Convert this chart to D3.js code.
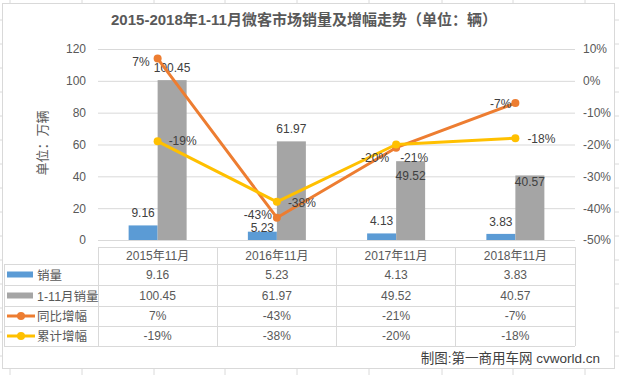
<!DOCTYPE html>
<html>
<head>
<meta charset="utf-8">
<script src="https://cdn.jsdelivr.net/npm/d3@7"></script>
<style>
  body { margin: 0; background: #fff; }
  svg text { font-family: "Liberation Sans", "Noto Sans CJK SC", sans-serif; }
</style>
</head>
<body>
<svg id="chart" width="619" height="375"></svg>
<script>
// Data ///////////////////////////////////////////////////////////////////
const categories = ['2015年11月', '2016年11月', '2017年11月', '2018年11月'];
const monthSales = [9.16, 5.23, 4.13, 3.83];        // 销量 (万辆)
const ytdSales = [100.45, 61.97, 49.52, 40.57];     // 1-11月销量 (万辆)
const yoyGrowth = [7, -43, -21, -7];                // 同比增幅 (%)
const ytdGrowth = [-19, -38, -20, -18];             // 累计增幅 (%)
const leftTicks = [0, 20, 40, 60, 80, 100, 120];
const rightTicks = [-50, -40, -30, -20, -10, 0, 10];

// Colors
const blue = '#5b9bd5', gray = '#a5a5a5', orange = '#ed7d31', yellow = '#ffc000';
const textColor = '#595959', gridColor = '#d9d9d9';

const svg = d3.select('#chart');

// Excel sheet grid behind the chart
const sheetCols = [10, 82, 154, 225, 297, 369, 442, 513, 585];
const sheetRows = d3.range(20, 375, 24);
svg.append('g').selectAll('line').data(sheetCols).enter().append('line')
  .attr('x1', d => d).attr('x2', d => d).attr('y1', 0).attr('y2', 375)
  .attr('stroke', '#dadada');
svg.append('g').selectAll('line').data(sheetRows).enter().append('line')
  .attr('x1', 0).attr('x2', 619).attr('y1', d => d).attr('y2', d => d)
  .attr('stroke', '#dadada');

// Chart area
svg.append('rect')
  .attr('x', 2.5).attr('y', 3.5).attr('width', 612).attr('height', 365)
  .attr('fill', '#fff').attr('stroke', gridColor);

// Scales
const plotLeft = 98, plotRight = 575, plotTop = 49, plotBottom = 240;
const x = d3.scaleBand().domain(categories).range([plotLeft, plotRight]);
const barWidth = 29;
const yLeft = d3.scaleLinear().domain([0, 120]).range([plotBottom, plotTop]);
const yRight = d3.scaleLinear().domain([-50, 10]).range([plotBottom, plotTop]);
const cx = c => x(c) + x.bandwidth() / 2;

// Title
svg.append('text')
  .attr('x', 304).attr('y', 25)
  .attr('text-anchor', 'middle')
  .attr('font-size', '15px').attr('font-weight', 'bold')
  .attr('fill', textColor)
  .text('2015-2018年1-11月微客市场销量及增幅走势（单位：辆）');

// Left axis with gridlines
const leftAxis = svg.append('g')
  .attr('transform', `translate(${plotLeft},0)`)
  .call(d3.axisLeft(yLeft).tickValues(leftTicks)
    .tickSize(-(plotRight - plotLeft)).tickPadding(12));
leftAxis.select('.domain').remove();
leftAxis.selectAll('line').attr('stroke', gridColor);
leftAxis.selectAll('text').attr('fill', textColor).attr('font-size', '12px');

// Right axis
const rightAxis = svg.append('g')
  .attr('transform', `translate(${plotRight},0)`)
  .call(d3.axisRight(yRight).tickValues(rightTicks)
    .tickSize(0).tickPadding(8).tickFormat(d => d + '%'));
rightAxis.select('.domain').remove();
rightAxis.selectAll('text').attr('fill', textColor).attr('font-size', '12px');

// Left axis title
svg.append('text')
  .attr('transform', 'translate(47,143) rotate(-90)')
  .attr('text-anchor', 'middle')
  .attr('font-size', '13px').attr('fill', textColor)
  .text('单位：万辆');

// Bars
svg.append('g').selectAll('rect').data(categories).enter().append('rect')
  .attr('x', d => cx(d) - barWidth)
  .attr('width', barWidth)
  .attr('y', (d, i) => yLeft(monthSales[i]))
  .attr('height', (d, i) => plotBottom - yLeft(monthSales[i]))
  .attr('fill', blue);
svg.append('g').selectAll('rect').data(categories).enter().append('rect')
  .attr('x', d => cx(d))
  .attr('width', barWidth)
  .attr('y', (d, i) => yLeft(ytdSales[i]))
  .attr('height', (d, i) => plotBottom - yLeft(ytdSales[i]))
  .attr('fill', gray);

// Bar labels (Excel moved some of them)
const monthLabelDy = [-8, 0, -8, -8];
const ytdLabelDy = [-8, -8, 19, 11];
svg.append('g').selectAll('text').data(categories).enter().append('text')
  .attr('x', d => cx(d) - barWidth / 2)
  .attr('y', (d, i) => yLeft(monthSales[i]) + monthLabelDy[i])
  .attr('text-anchor', 'middle').attr('font-size', '12px').attr('fill', '#404040')
  .text((d, i) => monthSales[i].toFixed(2));
svg.append('g').selectAll('text').data(categories).enter().append('text')
  .attr('x', d => cx(d) + barWidth / 2)
  .attr('y', (d, i) => yLeft(ytdSales[i]) + ytdLabelDy[i])
  .attr('text-anchor', 'middle').attr('font-size', '12px').attr('fill', '#404040')
  .text((d, i) => ytdSales[i].toFixed(2));

// Lines
const line = d3.line().x((d, i) => cx(categories[i])).y(d => yRight(d));
function drawSeries(values, color, labelPos) {
  svg.append('path').datum(values)
    .attr('d', line).attr('fill', 'none')
    .attr('stroke', color).attr('stroke-width', 3).attr('stroke-linejoin', 'round');
  svg.append('g').selectAll('circle').data(values).enter().append('circle')
    .attr('cx', (d, i) => cx(categories[i])).attr('cy', d => yRight(d))
    .attr('r', 4).attr('fill', color);
  svg.append('g').selectAll('text').data(values).enter().append('text')
    .attr('x', (d, i) => cx(categories[i]) + labelPos[i][0])
    .attr('y', (d, i) => yRight(d) + labelPos[i][1] + 4)
    .attr('text-anchor', (d, i) => labelPos[i][0] < 0 ? 'end' : 'start')
    .attr('font-size', '12px').attr('fill', '#404040')
    .text(d => d + '%');
}
drawSeries(yoyGrowth, orange, [[-8, 3], [-5, -3], [4, 10], [-4, 1]]);
drawSeries(ytdGrowth, yellow, [[11, 0], [11, 1], [-7, 13], [12, 1]]);

// Data table /////////////////////////////////////////////////////////////
const rowLines = [247, 264, 285, 306, 326, 346];
const tableLeft = 4;
const colLines = categories.map(c => x(c)).concat([plotRight]);
const table = svg.append('g').attr('stroke', gridColor).attr('shape-rendering', 'crispEdges');
rowLines.forEach((ry, i) => {
  table.append('line')
    .attr('x1', i === 0 ? plotLeft : tableLeft).attr('x2', plotRight)
    .attr('y1', ry).attr('y2', ry);
});
colLines.forEach(cxl => {
  table.append('line').attr('x1', cxl).attr('x2', cxl)
    .attr('y1', rowLines[0]).attr('y2', rowLines[5]);
});
table.append('line').attr('x1', tableLeft).attr('x2', tableLeft)
  .attr('y1', rowLines[1]).attr('y2', rowLines[5]);

const rowMid = i => (rowLines[i] + rowLines[i + 1]) / 2 + 4;
// header
svg.append('g').selectAll('text').data(categories).enter().append('text')
  .attr('x', d => cx(d)).attr('y', rowMid(0))
  .attr('text-anchor', 'middle').attr('font-size', '12px').attr('fill', textColor)
  .text(d => d);

const tableRows = [
  { name: '销量', values: monthSales.map(v => v.toFixed(2)), color: blue, type: 'bar' },
  { name: '1-11月销量', values: ytdSales.map(v => v.toFixed(2)), color: gray, type: 'bar' },
  { name: '同比增幅', values: yoyGrowth.map(v => v + '%'), color: orange, type: 'line' },
  { name: '累计增幅', values: ytdGrowth.map(v => v + '%'), color: yellow, type: 'line' }
];
tableRows.forEach((row, r) => {
  const my = (rowLines[r + 1] + rowLines[r + 2]) / 2;
  if (row.type === 'bar') {
    svg.append('rect').attr('x', 7).attr('y', my - 3).attr('width', 26).attr('height', 6)
      .attr('fill', row.color);
  } else {
    svg.append('line').attr('x1', 7).attr('x2', 35).attr('y1', my).attr('y2', my)
      .attr('stroke', row.color).attr('stroke-width', 3);
    svg.append('circle').attr('cx', 21).attr('cy', my).attr('r', 4).attr('fill', row.color);
  }
  svg.append('text').attr('x', 37).attr('y', my + 5)
    .attr('font-size', '12.5px').attr('fill', textColor).text(row.name);
  svg.append('g').selectAll('text').data(row.values).enter().append('text')
    .attr('x', (d, i) => cx(categories[i])).attr('y', my + 4)
    .attr('text-anchor', 'middle').attr('font-size', '12px').attr('fill', textColor)
    .text(d => d);
});

// Footer
svg.append('text')
  .attr('x', 600).attr('y', 363)
  .attr('text-anchor', 'end').attr('font-size', '13.5px').attr('fill', '#404040')
  .text('制图:第一商用车网 cvworld.cn');
</script>
</body>
</html>
